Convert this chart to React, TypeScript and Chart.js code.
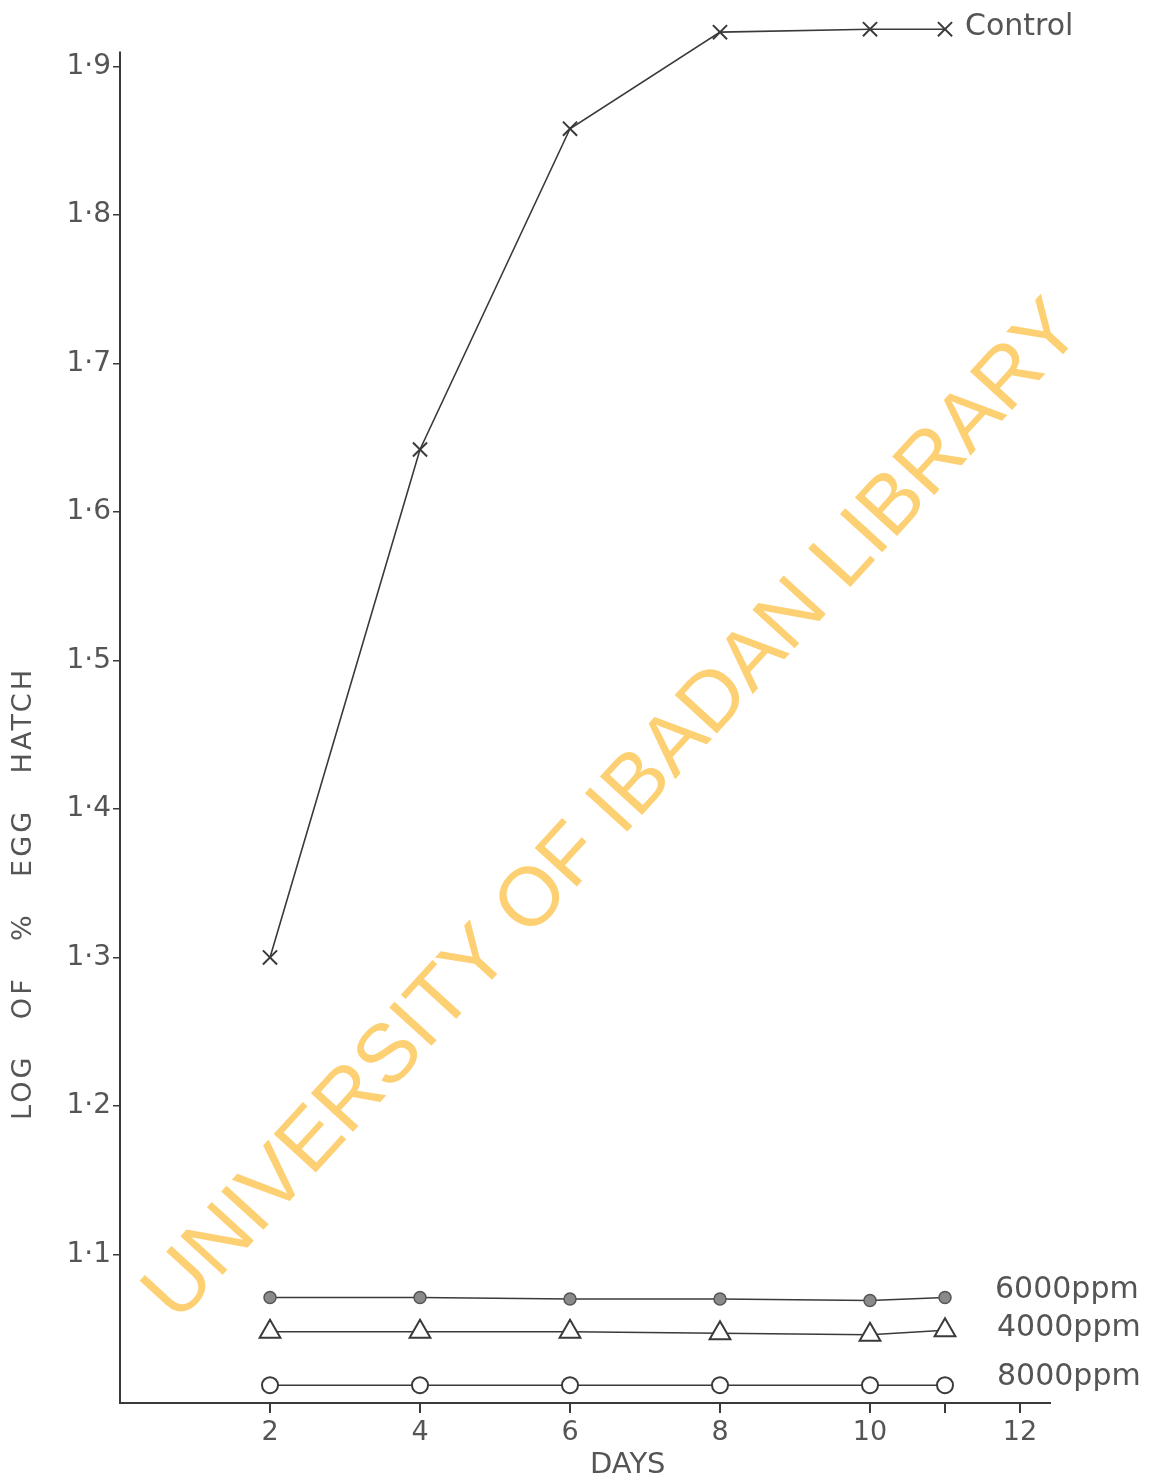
import React, { useEffect, useRef } from 'react';
import { Chart, registerables } from 'chart.js';

Chart.register(...registerables);

// ---- data ----
const days = [2, 4, 6, 8, 10, 11];
const control = [1.3, 1.642, 1.858, 1.923, 1.925, 1.925];
const ppm6000 = [1.071, 1.071, 1.07, 1.07, 1.069, 1.071];
const ppm4000 = [1.048, 1.048, 1.048, 1.047, 1.046, 1.049];
const ppm8000 = [1.012, 1.012, 1.012, 1.012, 1.012, 1.012];
const seriesLabels = ['Control', '6000ppm', '4000ppm', '8000ppm'];
const yTicks = [1.1, 1.2, 1.3, 1.4, 1.5, 1.6, 1.7, 1.8, 1.9];
const xTicks = [2, 4, 6, 8, 10, 11, 12];
const xTickLabels = ['2', '4', '6', '8', '10', '', '12'];
const yTitle = 'LOG   OF   %   EGG   HATCH';
const xTitle = 'DAYS';
const watermark = 'UNIVERSITY OF IBADAN LIBRARY';

const INK = '#3a3a3a';
const TEXT = '#555555';
const FONT = '"DejaVu Sans", "Liberation Sans", sans-serif';

export default function App() {
  const ref = useRef<HTMLCanvasElement | null>(null);

  useEffect(() => {
    document.body.style.margin = '0';
    const canvas = ref.current;
    if (!canvas) return;

    const toPts = (vals: number[]) => days.map((d, i) => ({ x: d, y: vals[i] }));

    const endLabelOffsets = [
      { dx: 20, dy: -2 },
      { dx: 50, dy: -7 },
      { dx: 52, dy: -2 },
      { dx: 52, dy: -8 },
    ];

    const decorPlugin = {
      id: 'decor',
      beforeDatasetsDraw(chart: any) {
        // y axis line, from just above the 1.9 tick down to the x axis
        const ctx = chart.ctx as CanvasRenderingContext2D;
        const ys = chart.scales.y;
        const x = chart.chartArea.left;
        ctx.save();
        ctx.strokeStyle = INK;
        ctx.lineWidth = 2;
        ctx.beginPath();
        ctx.moveTo(x, ys.getPixelForValue(1.91));
        ctx.lineTo(x, ys.getPixelForValue(1.0) + 1);
        ctx.stroke();
        ctx.restore();
      },
      afterDatasetsDraw(chart: any) {
        const ctx = chart.ctx as CanvasRenderingContext2D;
        // end labels
        ctx.save();
        ctx.fillStyle = TEXT;
        ctx.font = `30px ${FONT}`;
        ctx.textAlign = 'left';
        ctx.textBaseline = 'middle';
        chart.data.datasets.forEach((ds: any, i: number) => {
          const meta = chart.getDatasetMeta(i);
          const last = meta.data[meta.data.length - 1];
          if (!last) return;
          const o = endLabelOffsets[i];
          ctx.fillText(seriesLabels[i], last.x + o.dx, last.y + o.dy);
        });
        ctx.restore();

        // y title
        const ys = chart.scales.y;
        ctx.save();
        ctx.fillStyle = TEXT;
        ctx.font = `27px ${FONT}`;
        const baseW = ctx.measureText(yTitle).width;
        const spacing = Math.max(0, (450 - baseW) / (yTitle.length - 1));
        (ctx as any).letterSpacing = `${spacing}px`;
        ctx.translate(24, ys.getPixelForValue(1.342));
        ctx.rotate(-Math.PI / 2);
        ctx.textAlign = 'center';
        ctx.textBaseline = 'middle';
        ctx.fillText(yTitle, spacing / 2, 0);
        ctx.restore();

        // x title
        const xs = chart.scales.x;
        ctx.save();
        ctx.fillStyle = TEXT;
        ctx.font = `29px ${FONT}`;
        ctx.textAlign = 'center';
        ctx.textBaseline = 'middle';
        ctx.fillText(xTitle, xs.getPixelForValue(6.77), 1465);
        ctx.restore();
      },
      afterDraw(chart: any) {
        const ctx = chart.ctx as CanvasRenderingContext2D;
        ctx.save();
        ctx.font = `84px "Liberation Sans", Arial, sans-serif`;
        const w = ctx.measureText(watermark).width;
        const target = 1345;
        const size = 84 * (target / w);
        ctx.font = `${size}px "Liberation Sans", Arial, sans-serif`;
        ctx.fillStyle = 'rgba(252, 203, 100, 0.9)';
        ctx.translate(614, 812);
        ctx.rotate(-47.6 * Math.PI / 180);
        ctx.textAlign = 'center';
        ctx.textBaseline = 'middle';
        ctx.fillText(watermark, 0, 0);
        ctx.restore();
      },
    };

    const common = {
      borderColor: INK,
      borderWidth: 1.6,
      tension: 0,
    };

    const chart = new Chart(canvas, {
      type: 'line',
      data: {
        datasets: [
          {
            ...common,
            label: seriesLabels[0],
            data: toPts(control),
            pointStyle: 'crossRot',
            pointRadius: 10,
            pointBorderWidth: 2,
            pointBorderColor: INK,
            pointBackgroundColor: INK,
          },
          {
            ...common,
            label: seriesLabels[1],
            data: toPts(ppm6000),
            pointStyle: 'circle',
            pointRadius: 6,
            pointBorderWidth: 1.5,
            pointBorderColor: '#555',
            pointBackgroundColor: '#8a8a8a',
          },
          {
            ...common,
            label: seriesLabels[2],
            data: toPts(ppm4000),
            pointStyle: 'triangle',
            pointRadius: 12,
            pointBorderWidth: 2,
            pointBorderColor: INK,
            pointBackgroundColor: '#ffffff',
          },
          {
            ...common,
            label: seriesLabels[3],
            data: toPts(ppm8000),
            pointStyle: 'circle',
            pointRadius: 8,
            pointBorderWidth: 2,
            pointBorderColor: INK,
            pointBackgroundColor: '#ffffff',
          },
        ],
      },
      options: {
        responsive: false,
        animation: false,
        devicePixelRatio: 1,
        layout: { padding: { left: 0, right: 102, top: 0, bottom: 0 } },
        plugins: {
          legend: { display: false },
          tooltip: { enabled: false },
          title: { display: false },
        },
        scales: {
          x: {
            type: 'linear',
            min: 0,
            max: 12.4,
            afterFit: (s: any) => {
              s.height = 81;
            },
            afterBuildTicks: (s: any) => {
              s.ticks = xTicks.map((v) => ({ value: v }));
            },
            ticks: {
              autoSkip: false,
              maxRotation: 0,
              padding: 4,
              color: TEXT,
              font: { family: FONT, size: 27 },
              callback: (v: any) => {
                const i = xTicks.indexOf(Number(v));
                return i >= 0 ? xTickLabels[i] : '';
              },
            },
            grid: {
              display: true,
              drawOnChartArea: false,
              drawTicks: true,
              tickLength: 10,
              color: INK,
              lineWidth: 2,
            },
            border: { display: true, color: INK, width: 2 },
          },
          y: {
            type: 'linear',
            min: 1.0,
            max: 1.932,
            afterFit: (s: any) => {
              s.width = 120;
            },
            afterBuildTicks: (s: any) => {
              s.ticks = yTicks.map((v) => ({ value: v }));
            },
            ticks: {
              autoSkip: false,
              padding: 2,
              color: TEXT,
              font: { family: FONT, size: 28 },
              callback: (v: any) => Number(v).toFixed(1).replace('.', '·'),
            },
            grid: {
              display: true,
              drawOnChartArea: false,
              drawTicks: true,
              tickLength: 7,
              color: INK,
              lineWidth: 1.5,
            },
            border: { display: false },
          },
        },
      },
      plugins: [decorPlugin],
    } as any);

    return () => {
      chart.destroy();
    };
  }, []);

  return (
    <div style={{ position: 'absolute', left: 0, top: 0, width: 1152, height: 1484, background: '#ffffff' }}>
      <canvas ref={ref} width={1152} height={1484} style={{ display: 'block', width: 1152, height: 1484 }} />
    </div>
  );
}
